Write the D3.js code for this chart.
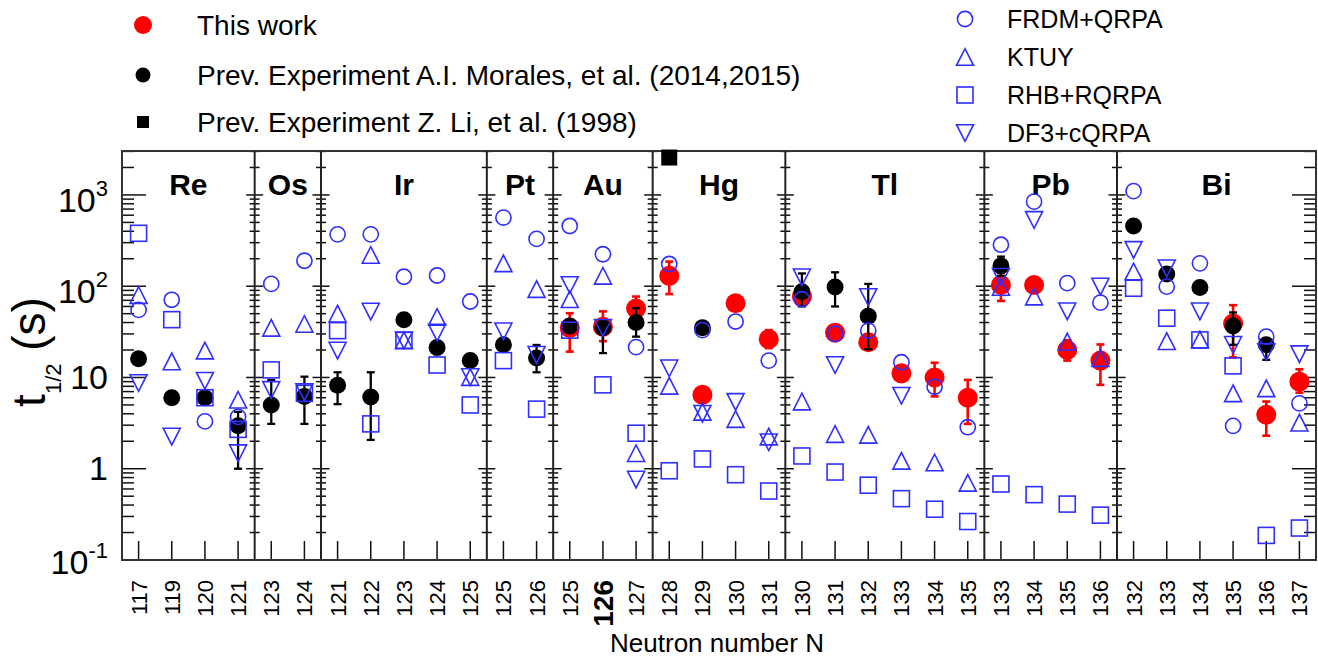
<!DOCTYPE html>
<html><head><meta charset="utf-8">
<script src="https://cdn.jsdelivr.net/npm/d3@7"></script>
<style>
html,body{margin:0;padding:0;background:#fff;}
svg{display:block;font-family:"Liberation Sans",Arial,Helvetica,sans-serif;}
</style></head><body>
<svg id="chart" width="1318" height="660"></svg>
<script>
// ---------------- DATA ----------------
const elements = ["Re","Os","Ir","Pt","Au","Hg","Tl","Pb","Bi"];
const neutrons = [
  [117,119,120,121],
  [123,124],
  [121,122,123,124,125],
  [125,126],
  [125,126,127],
  [128,129,130,131],
  [130,131,132,133,134,135],
  [133,134,135,136],
  [132,133,134,135,136,137]
];
// categories in drawing order (36 columns)
const categories = elements.flatMap((e,i)=>neutrons[i].map(n=>e+n));

// This work (red) : value, low, high  (keyed by category)
const thisWork = [
  ["Au125",35,19.2,50.6],["Au126",36,25,53],["Au127",57,42,77],
  ["Hg128",130,82,186],["Hg129",6.45,5.8,7.2],["Hg130",65,58,73],["Hg131",26.3,21,33],
  ["Tl130",77,66,90],["Tl131",31,27,36],["Tl132",24.3,20.5,29],["Tl133",11.1,9.7,12.7],
  ["Tl134",10,6.2,14.5],["Tl135",6.0,3.1,9.4],
  ["Pb133",103,69,140],["Pb134",103,92,115],["Pb135",20,15.3,25.6],["Pb136",15.3,8.3,23],
  ["Bi135",39,16.6,62],["Bi136",3.9,2.3,5.45],["Bi137",9.0,6.8,12.3]
];
// Previous experiment A.I. Morales et al. (black circles) : value, low, high
const morales = [
  ["Re117",16,14.5,17.5],["Re119",6.0,5.5,6.5],["Re120",6.0,5.5,6.5],["Re121",2.95,1.0,4.2],
  ["Os123",5.0,3.1,9.4],["Os124",6.2,3.1,10.2],
  ["Ir121",8.2,5.1,11.4],["Ir122",6.1,2.07,11.4],["Ir123",43,39,47],["Ir124",21.3,18,25],["Ir125",15.3,14,16.8],
  ["Pt125",22.8,20,26],["Pt126",16.3,11.4,22.7],
  ["Au125",36.7,31,43],["Au126",35,18.5,41],["Au127",40,28,57.5],
  ["Hg129",35,31,39.5],
  ["Tl130",87,60,138],["Tl131",98,60,142],["Tl132",47,20.4,106],
  ["Pb133",167,130,211],
  ["Bi132",457,420,495],["Bi133",136,125,148],["Bi134",97,90,105],["Bi135",36.7,22.8,51.6],["Bi136",22.8,15.6,25.5]
];
// Previous experiment Z. Li et al. (black square)
const zLi = [["Hg128",2570]];

// Theory (one value per category, null = not shown)
const frdm = [55,71,3.3,3.7, 106,190, 370,370,127,131,68, 565,330, 457,224,21.5,
  175,33,41,15.3, 72,30,32.6,14.7,7.9,2.85, 285,845,108,66, 1100,99,178,2.95,28,5.2];
const ktuy = [80,15,19.7,5.7, 35,38.6, 50,220,25.5,46,10.1, 178,93, 72,130,1.48,
  8.1,4.2,3.5,2.25, 5.45,2.4,2.35,1.22,1.17,0.70, 98,77,24.7,16.3, 145,25,26,6.7,7.6,3.2];
const rhb = [380,43,6.0,2.7, 12.1,6.7, 32.6,3.1,25.5,13.7,5.0, 15.3,4.5, 33,8.3,2.45,
  0.95,1.28,0.86,0.57, 1.38,0.92,0.66,0.47,0.36,0.264, 0.68,0.52,0.41,0.31, 95,44.6,25.8,13.4,0.186,0.224];
const df3 = [8.7,2.25,9.2,1.48, 7.3,6.9, 19.7,52.7,25.5,31,10.1, 32,17.7, 103,35,0.76,
  12.6,4.0,5.4,1.95, 125,13.7,76,6.3,null,null, 127,532,53,99, 250,157,53,22.8,19,18];

const yTickValues = [0.1,1,10,100,1000];
const yTickBase = ["10","1","10","10","10"];
const yTickSup  = ["-1","","","2","3"];

const legendLeft = ["This work","Prev. Experiment A.I. Morales, et al. (2014,2015)","Prev. Experiment Z. Li, et al. (1998)"];
const legendRight = ["FRDM+QRPA","KTUY","RHB+RQRPA","DF3+cQRPA"];

// ---------------- DRAW ----------------
const svg = d3.select("#chart");
const L=122, R=1316, T=151, B=560;
const BLUE="#2f2fff", RED="#ff0000";

const x = d3.scaleBand().domain(categories).range([L,R]).padding(0);
const cx = c => x(c)+x.bandwidth()/2;
const y = d3.scaleLog().domain([0.1,3030]).range([B,T]);

// panel edges
const edges = [L];
elements.forEach((e,i)=>{ const last=e+neutrons[i][neutrons[i].length-1]; edges.push(x(last)+x.bandwidth()); });

const axisG = svg.append("g");
// y ticks
const allTicks = y.ticks().filter(v=>v>=0.1 && v<=3030);
edges.forEach((ex,i)=>{
  allTicks.forEach(v=>{
    const major = Math.abs(Math.log10(v)-Math.round(Math.log10(v)))<1e-6;
    const yy=y(v);
    if(i===0){
      axisG.append("line").attr("x1",ex).attr("x2",ex+(major?24:12)).attr("y1",yy).attr("y2",yy);
    } else if(i===edges.length-1){
      axisG.append("line").attr("x1",ex).attr("x2",ex-(major?24:12)).attr("y1",yy).attr("y2",yy);
    } else {
      const h = major?8.5:5;
      axisG.append("line").attr("x1",ex-h).attr("x2",ex+h).attr("y1",yy).attr("y2",yy);
    }
  });
});
// x ticks
categories.forEach(c=>{
  axisG.append("line").attr("x1",cx(c)).attr("x2",cx(c)).attr("y1",B).attr("y2",B-19);
});
axisG.selectAll("line").attr("stroke","#111").attr("stroke-width",1.5);

// frame
svg.append("rect").attr("x",L).attr("y",T).attr("width",R-L).attr("height",B-T)
  .attr("fill","none").attr("stroke","#333").attr("stroke-width",2);
edges.slice(1,-1).forEach(ex=>{
  svg.append("line").attr("x1",ex).attr("x2",ex).attr("y1",T).attr("y2",B)
    .attr("stroke","#222").attr("stroke-width",2);
});

// y tick labels
yTickValues.forEach((v,i)=>{
  const t = svg.append("text").attr("x",108).attr("text-anchor","end")
    .attr("font-size",34).attr("fill","#000");
  if(yTickSup[i]){
    t.attr("y",y(v)+(v===0.1?14:17));
    t.append("tspan").text(yTickBase[i]);
    t.append("tspan").attr("font-size",22).attr("dy",-16).text(yTickSup[i]);
  } else {
    t.attr("y",y(v)+11.5).text(yTickBase[i]);
  }
});

// x tick labels
categories.forEach((c,i)=>{
  const n = c.slice(2);
  const bold = (c==="Au126");
  svg.append("text").attr("transform",`translate(${cx(c)},580) rotate(-90)`)
    .attr("text-anchor","end").attr("dy","0.36em")
    .attr("font-size",bold?28:22).attr("font-weight",bold?"bold":"normal")
    .text(n);
});

// axis titles
svg.append("text").attr("x",717).attr("y",652).attr("text-anchor","middle")
  .attr("font-size",26).text("Neutron number N");
const yt = svg.append("text").attr("transform","translate(45,352) rotate(-90)")
  .attr("text-anchor","middle").attr("font-size",46);
yt.append("tspan").text("t");
yt.append("tspan").attr("font-size",22).attr("dy",16).text("1/2");
yt.append("tspan").attr("dy",-16).text(" (s)");

// panel labels
elements.forEach((e,i)=>{
  svg.append("text").attr("x",(edges[i]+edges[i+1])/2).attr("y",195)
    .attr("text-anchor","middle").attr("font-size",30).attr("font-weight","bold").text(e);
});

// marker helpers
function tri(g,px,py,up,col){
  const w=8.5,h=8.3;
  const d = up ? `M${px-w},${py+h}L${px+w},${py+h}L${px},${py-h}Z`
               : `M${px-w},${py-h}L${px+w},${py-h}L${px},${py+h}Z`;
  g.append("path").attr("d",d).attr("fill","none").attr("stroke",col).attr("stroke-width",1.6);
}
function sq(g,px,py,col,filled,s){
  s=s||16;
  g.append("rect").attr("x",px-s/2).attr("y",py-s/2).attr("width",s).attr("height",s)
    .attr("fill",filled?col:"none").attr("stroke",col).attr("stroke-width",filled?0:1.6);
}
function circ(g,px,py,col,filled,r){
  g.append("circle").attr("cx",px).attr("cy",py).attr("r",r)
    .attr("fill",filled?col:"none").attr("stroke",filled?"none":col).attr("stroke-width",1.6);
}
function errbar(g,px,lo,hi,col,w){
  g.append("line").attr("x1",px).attr("x2",px).attr("y1",y(lo)).attr("y2",y(hi))
    .attr("stroke",col).attr("stroke-width",w);
  [lo,hi].forEach(v=>g.append("line").attr("x1",px-4).attr("x2",px+4).attr("y1",y(v)).attr("y2",y(v))
    .attr("stroke",col).attr("stroke-width",w));
}

const marks = svg.append("g");
// red
thisWork.forEach(([c,v,lo,hi])=>{ errbar(marks,cx(c),lo,hi,RED,2.6); circ(marks,cx(c),y(v),RED,true,10); });
// black
morales.forEach(([c,v,lo,hi])=>{ errbar(marks,cx(c),lo,hi,"#000",2.3); circ(marks,cx(c),y(v),"#000",true,8.5); });
zLi.forEach(([c,v])=>sq(marks,cx(c),y(v),"#000",true,16));
// theory (blue open)
categories.forEach((c,i)=>{
  const px=cx(c);
  if(rhb[i]!=null) sq(marks,px,y(rhb[i]),BLUE,false,16);
  if(ktuy[i]!=null) tri(marks,px,y(ktuy[i]),true,BLUE);
  if(df3[i]!=null) tri(marks,px,y(df3[i]),false,BLUE);
  if(frdm[i]!=null) circ(marks,px,y(frdm[i]),BLUE,false,7.6);
});

// legends
const lg = svg.append("g");
const leftRows=[25,75,122];
circ(lg,143,leftRows[0],RED,true,9);
circ(lg,143,leftRows[1],"#000",true,7.5);
sq(lg,143,leftRows[2],"#000",true,12);
legendLeft.forEach((t,i)=>lg.append("text").attr("x",197).attr("y",leftRows[i]+10).attr("font-size",28).text(t));
const rightRows=[19,57,95,133];
circ(lg,965,rightRows[0],BLUE,false,7.6);
tri(lg,965,rightRows[1],true,BLUE);
sq(lg,965,rightRows[2],BLUE,false,16);
tri(lg,965,rightRows[3],false,BLUE);
legendRight.forEach((t,i)=>lg.append("text").attr("x",1007).attr("y",rightRows[i]+9).attr("font-size",25).text(t));
</script>
</body></html>
